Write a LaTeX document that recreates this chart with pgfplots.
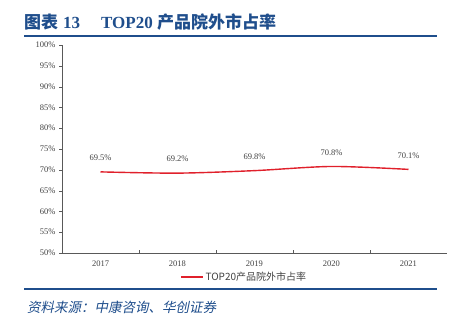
\documentclass[border=0pt]{standalone}
\usepackage{fontspec}
\setmainfont{Liberation Serif}
\newfontfamily\cjk{Noto Sans CJK SC}
\newfontfamily\cjkit{Noto Sans CJK SC}[FakeSlant=0.2]
\usepackage{pgfplots}
\pgfplotsset{compat=1.18}
\definecolor{hcblue}{HTML}{1F4E8C}
\definecolor{lred}{HTML}{E0202B}
\definecolor{tgray}{HTML}{404040}
\begin{document}
\begin{tikzpicture}[x=1pt,y=1pt]
\useasboundingbox (0pt,0pt) rectangle (458pt,332pt);
\node[anchor=west,text=hcblue,font=\fontsize{17}{17}\selectfont\bfseries,inner sep=0] at (24pt,310pt) {{\cjk\bfseries 图表}\hspace{5pt}13};
\node[anchor=west,text=hcblue,font=\fontsize{17}{17}\selectfont\bfseries,inner sep=0] at (101pt,310pt) {TOP20 {\cjk\bfseries 产品院外市占率}};
\draw[hcblue,line width=1.4pt] (24pt,296pt) -- (437pt,296pt);
\draw[hcblue,line width=1.4pt] (24pt,43pt) -- (437pt,43pt);
\node[anchor=west,text=hcblue,font=\fontsize{13.5}{13.5}\selectfont\cjkit,inner sep=0] at (27pt,25pt) {资料来源：中康咨询、华创证券};
\begin{axis}[
  at={(62pt,79pt)}, anchor=south west,
  scale only axis, width=385pt, height=208pt,
  xmin=-0.5, xmax=4.5, ymin=50, ymax=100,
  axis x line*=bottom, axis y line*=left,
  axis line style={gray!70!black, line width=0.6pt},
  xtick={0,1,2,3,4},
  xticklabels={2017,2018,2019,2020,2021},
  major x tick style={draw=none},
  minor xtick={0.5,1.5,2.5,3.5},
  minor tick length=3pt,
  minor x tick style={gray!70!black, yshift=3pt},
  ytick={50,55,...,100},
  yticklabel={\pgfmathprintnumber{\tick}\%},
  tick align=outside, major tick length=3pt,
  y tick style={gray!70!black},
  tick label style={font=\fontsize{8.5}{8.5}\selectfont, text=tgray},
  /pgf/number format/assume math mode=true,
  xticklabel style={yshift=-1pt},
  clip=false,
  legend style={at={(0.473,-0.115)}, anchor=center, draw=none, fill=none,
    font=\fontsize{10}{10}\selectfont\cjk, text=tgray, inner sep=0pt,
    /tikz/every even column/.append style={column sep=0pt}},
  legend cell align=left,
  legend image code/.code={\draw[#1, line width=1.4pt] (0pt,0pt) -- (22pt,0pt);},
  nodes near coords={\pgfmathprintnumber[fixed,precision=1,fixed zerofill]{\pgfplotspointmeta}\%},
  nodes near coords style={font=\fontsize{8.5}{8.5}\selectfont, text=tgray, yshift=7pt},
]
\addplot[lred, line width=1.4pt, smooth, mark=none, point meta=explicit] coordinates {
  (0,69.5) [69.5] (1,69.2) [69.2] (2,69.8) [69.8] (3,70.8) [70.8] (4,70.1) [70.1]
};
\addlegendentry{TOP20产品院外市占率}
\end{axis}
\end{tikzpicture}
\end{document}
